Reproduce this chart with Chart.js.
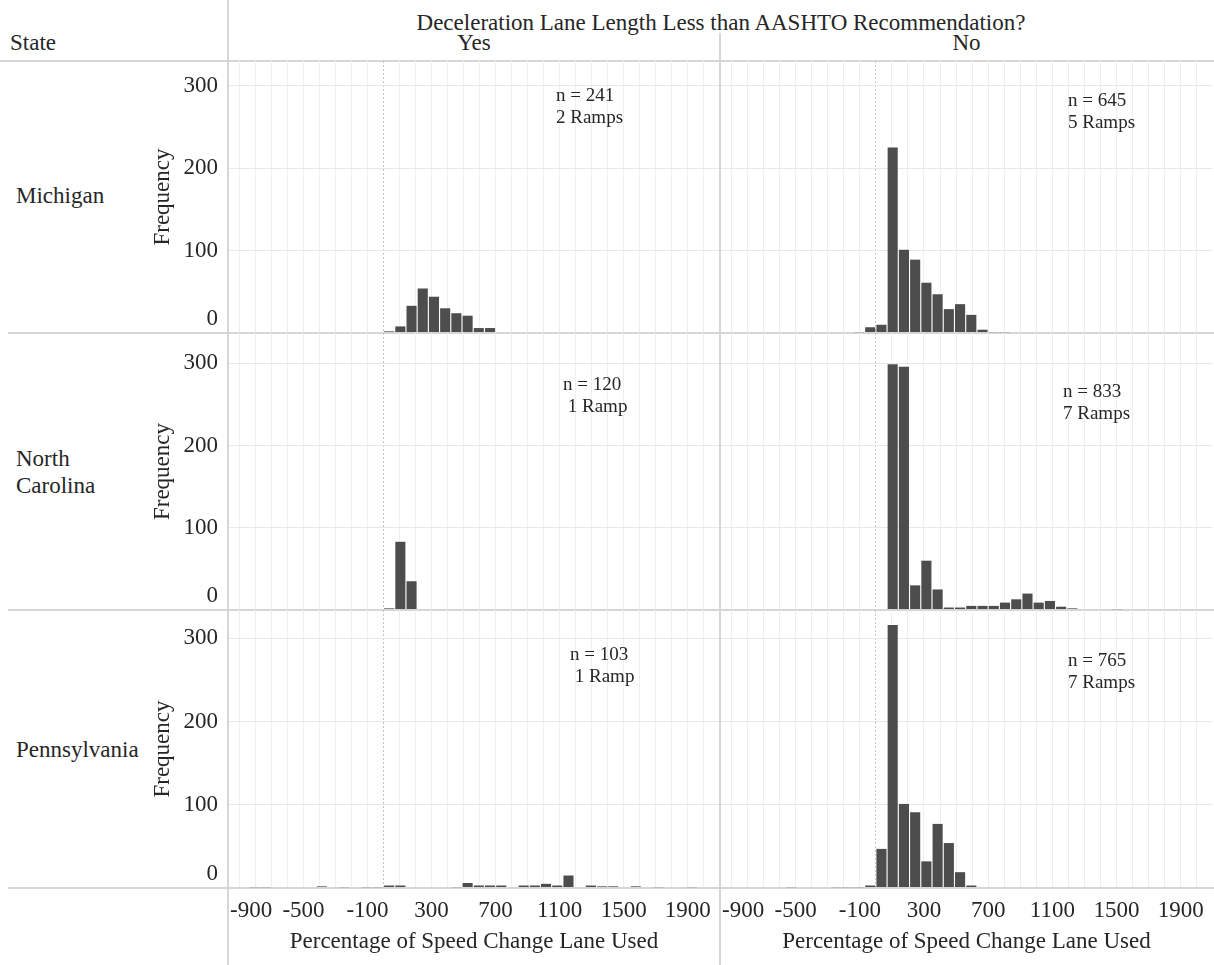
<!DOCTYPE html>
<html>
<head>
<meta charset="utf-8">
<script src="https://cdn.jsdelivr.net/npm/chart.js@4"></script>
<style>
  body { margin: 0; background: #fff; }
  #page { position: relative; width: 1214px; height: 965px; overflow: hidden;
          font-family: 'Liberation Serif', 'Times New Roman', serif; color: #262626; }
  .txt { position: absolute; white-space: nowrap; line-height: 1; transform: translateY(-50%); font-size: 23px; }
  .note { position: absolute; white-space: nowrap; font-size: 19px; line-height: 21.5px; }
  .hline { position: absolute; height: 2px; background: #d6d6d6; }
  .vline { position: absolute; width: 2px; background: #d6d6d6; }
  .box { position: absolute; }
</style>
</head>
<body>
<div id="page">
  <div class="hline" style="left:0;top:60px;width:1214px"></div>
  <div class="hline" style="left:8px;top:332px;width:1206px"></div>
  <div class="hline" style="left:8px;top:609px;width:1206px"></div>
  <div class="hline" style="left:8px;top:887px;width:1206px"></div>
  <div class="vline" style="left:227px;top:0;height:965px"></div>
  <div class="vline" style="left:719px;top:33px;height:932px"></div>

  <div class="txt" style="left:228px;width:986px;text-align:center;top:22px">Deceleration Lane Length Less than AASHTO Recommendation?</div>
  <div class="txt" style="left:10px;top:42px">State</div>
  <div class="txt" style="left:229px;width:490px;text-align:center;top:42px">Yes</div>
  <div class="txt" style="left:721px;width:491px;text-align:center;top:42px">No</div>

  <div class="txt" style="left:16px;top:195px">Michigan</div>
  <div class="txt" style="left:16px;top:458px">North</div>
  <div class="txt" style="left:16px;top:485px">Carolina</div>
  <div class="txt" style="left:16px;top:749px">Pennsylvania</div>

  <div class="box" style="left:140px;top:61px;width:580px;height:272px"><canvas id="michYes"></canvas></div>
  <div class="box" style="left:700px;top:61px;width:514px;height:272px"><canvas id="michNo"></canvas></div>
  <div class="box" style="left:140px;top:333px;width:580px;height:277px"><canvas id="ncYes"></canvas></div>
  <div class="box" style="left:700px;top:333px;width:514px;height:277px"><canvas id="ncNo"></canvas></div>
  <div class="box" style="left:140px;top:610px;width:580px;height:355px"><canvas id="paYes"></canvas></div>
  <div class="box" style="left:700px;top:610px;width:514px;height:355px"><canvas id="paNo"></canvas></div>

  <div class="note" style="left:556px;top:84px">n = 241<br>2 Ramps</div>
  <div class="note" style="left:1068px;top:89px">n = 645<br>5 Ramps</div>
  <div class="note" style="left:563px;top:373px">n = 120<br>&nbsp;1 Ramp</div>
  <div class="note" style="left:1063px;top:380px">n = 833<br>7 Ramps</div>
  <div class="note" style="left:570px;top:643px">n = 103<br>&nbsp;1 Ramp</div>
  <div class="note" style="left:1068px;top:649px">n = 765<br>7 Ramps</div>
</div>

<script>
// lower edge of each histogram bin (bin size 70)
const binStart = [-840, -770, -700, -630, -560, -490, -420, -350, -280, -210,
                  -140, -70, 0, 70, 140, 210, 280, 350, 420, 490,
                  560, 630, 700, 770, 840, 910, 980, 1050, 1120, 1190,
                  1260, 1330, 1400, 1470, 1540, 1610, 1680, 1750, 1820, 1890];
const binWidth = 70;

// frequencies per bin
const michiganYes = [0, 0, 0, 0, 0, 0, 0, 0, 0, 0,  0, 0, 2, 8, 33, 54, 44, 30, 24, 21,
                     6, 6, 0, 0, 0, 0, 0, 0, 0, 0,  0, 0, 0, 0, 0, 0, 0, 0, 0, 0];
const michiganNo  = [0, 0, 0, 0, 0, 0, 0, 0, 0, 0,  1, 7, 10, 225, 101, 89, 61, 47, 29, 35,
                     22, 4, 1, 1, 0, 0, 0, 0, 0, 0,  0, 0, 0, 0, 0, 0, 0, 0, 0, 0];
const carolinaYes = [0, 0, 0, 0, 0, 0, 0, 0, 0, 0,  0, 0, 2, 83, 35, 0, 0, 0, 0, 0,
                     0, 0, 0, 0, 0, 0, 0, 0, 0, 0,  0, 0, 0, 0, 0, 0, 0, 0, 0, 0];
const carolinaNo  = [0, 0, 0, 0, 0, 0, 0, 0, 0, 0,  0, 0, 0, 299, 296, 30, 60, 25, 3, 3,
                     5, 5, 5, 9, 13, 20, 9, 11, 4, 2,  0, 0, 0, 1, 0, 0, 0, 0, 0, 0];
const pennYes     = [1, 1, 0, 0, 0, 0, 2, 0, 1, 0,  1, 1, 3, 3, 0, 0, 0, 0, 1, 6,
                     3, 3, 3, 0, 3, 3, 5, 3, 15, 0,  3, 2, 2, 0, 2, 0, 1, 0, 0, 1];
const pennNo      = [0, 0, 0, 0, 1, 0, 0, 0, 1, 1,  1, 3, 47, 316, 101, 91, 32, 77, 54, 19,
                     3, 0, 0, 0, 0, 0, 0, 0, 0, 0,  0, 0, 0, 0, 0, 0, 0, 0, 0, 0];

// axes
const xTickValues = [-900, -800, -700, -600, -500, -400, -300, -200, -100, 0,
                     100, 200, 300, 400, 500, 600, 700, 800, 900, 1000,
                     1100, 1200, 1300, 1400, 1500, 1600, 1700, 1800, 1900, 2000];
const xLabelValues = [-900, -500, -100, 300, 700, 1100, 1500, 1900];
const yTickValues = [0, 100, 200, 300];
const yMaxByRow = [330, 337, 334];

Chart.defaults.font.family = "'Liberation Serif', 'Times New Roman', serif";
Chart.defaults.color = '#262626';

// keep the first x label inside the panel, like the source does
const firstLabelInside = {
    id: 'firstLabelInside',
    beforeDraw(chart) {
        const sx = chart.scales.x;
        if (!sx.options.ticks.display || typeof sx.getLabelItems !== 'function') return;
        const items = sx.getLabelItems(chart.chartArea);
        const first = items.find(it => it.label !== '');
        if (first) {
            first.options.textAlign = 'left';
            first.options.translation[0] = chart.chartArea.left + 1;
        }
    }
};

function makePanel(id, counts, isLeft, isBottom, yMax) {
    const points = binStart.map((s, i) => ({ x: s + binWidth / 2, y: counts[i] }));

    new Chart(document.getElementById(id), {
        type: 'bar',
        data: {
            datasets: [{
                data: points,
                backgroundColor: '#4d4d4d',
                borderWidth: 0,
                barPercentage: 0.9,
                categoryPercentage: 1
            }]
        },
        options: {
            responsive: true,
            maintainAspectRatio: false,
            animation: false,
            layout: { padding: { left: 0, right: isLeft ? 1 : 2, top: 0, bottom: 0 } },
            plugins: { legend: { display: false }, tooltip: { enabled: false } },
            scales: {
                x: {
                    type: 'linear',
                    min: -965,
                    max: 2095,
                    offset: false,
                    afterBuildTicks: s => { s.ticks = xTickValues.map(v => ({ value: v })); },
                    afterFit: s => { s.paddingLeft = 0; s.paddingRight = 0; s.height = isBottom ? 77 : 0; },
                    grid: {
                        offset: false,
                        drawTicks: false,
                        color: c => (c.tick && c.tick.value === 0) ? '#c4c4c4' : '#efefef'
                    },
                    border: {
                        display: false,
                        dash: c => (c.tick && c.tick.value === 0) ? [2, 2] : []
                    },
                    ticks: {
                        display: isBottom,
                        autoSkip: false,
                        maxRotation: 0,
                        padding: 9,
                        font: { size: 23 },
                        callback: v => xLabelValues.includes(v) ? String(v) : ''
                    },
                    title: {
                        display: isBottom,
                        text: 'Percentage of Speed Change Lane Used',
                        font: { size: 23 },
                        padding: { top: 4, bottom: 9 }
                    }
                },
                y: {
                    min: 0,
                    max: yMax,
                    afterBuildTicks: s => { s.ticks = yTickValues.map(v => ({ value: v })); },
                    afterFit: s => { s.paddingTop = 0; s.paddingBottom = 0; s.width = isLeft ? 89 : 21; },
                    grid: {
                        drawTicks: false,
                        color: c => (c.tick && c.tick.value === 0) ? '#d6d6d6' : '#e8e8e8',
                        lineWidth: c => (c.tick && c.tick.value === 0) ? 2 : 1
                    },
                    border: { display: false },
                    ticks: {
                        display: isLeft,
                        padding: 11,
                        font: { size: 23 },
                        // the zero label sits above the baseline, as in the source
                        callback: v => v === 0 ? ['0', ''] : String(v)
                    },
                    title: {
                        display: isLeft,
                        text: 'Frequency',
                        font: { size: 23 },
                        padding: { top: 9, bottom: 0 }
                    }
                }
            }
        },
        plugins: [firstLabelInside]
    });
}

makePanel('michYes', michiganYes, true, false, yMaxByRow[0]);
makePanel('michNo', michiganNo, false, false, yMaxByRow[0]);
makePanel('ncYes', carolinaYes, true, false, yMaxByRow[1]);
makePanel('ncNo', carolinaNo, false, false, yMaxByRow[1]);
makePanel('paYes', pennYes, true, true, yMaxByRow[2]);
makePanel('paNo', pennNo, false, true, yMaxByRow[2]);
</script>
</body>
</html>
